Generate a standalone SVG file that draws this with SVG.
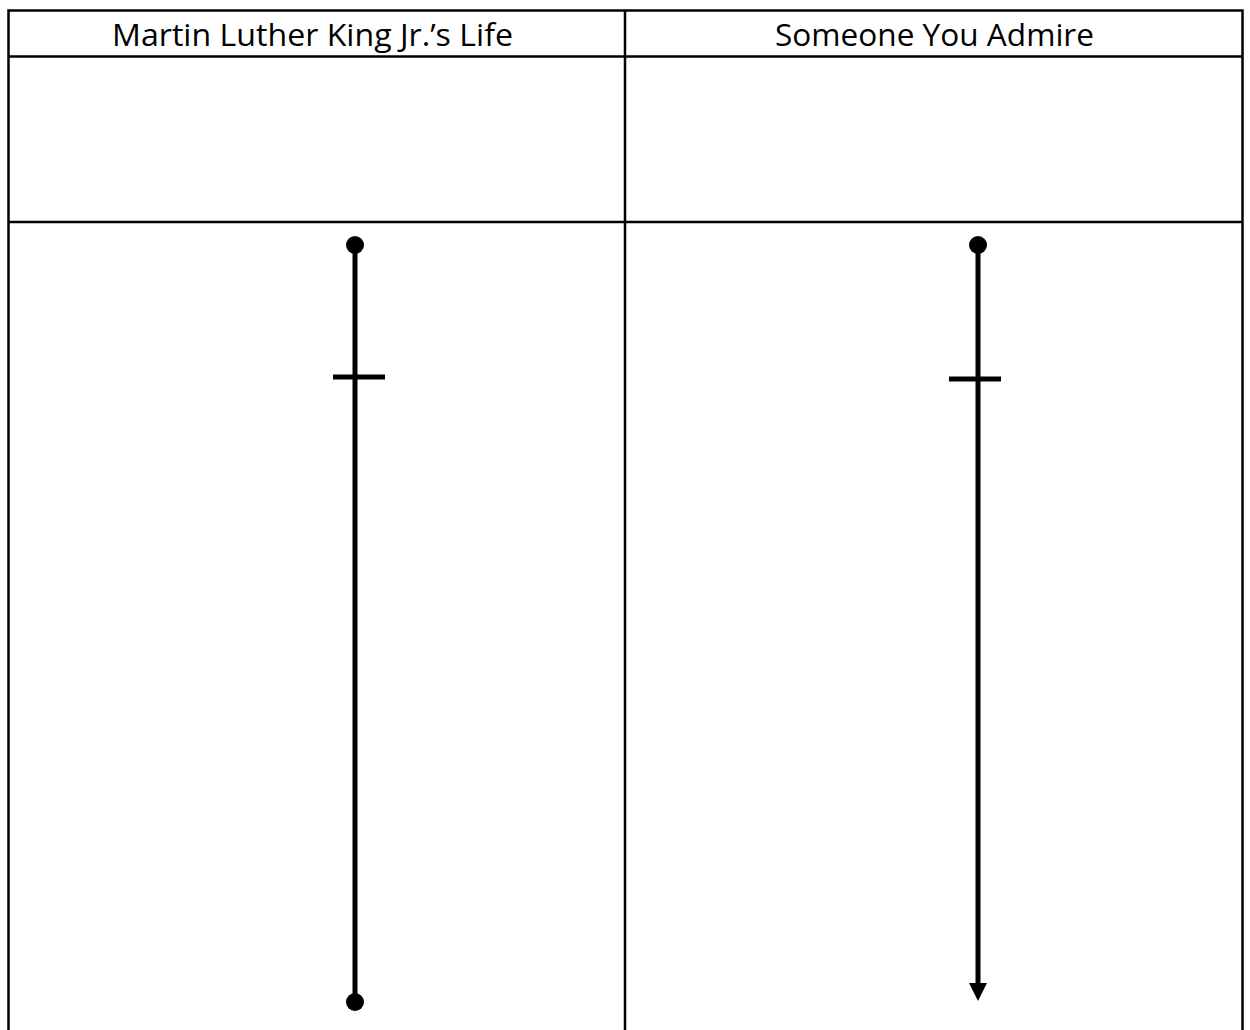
<svg xmlns="http://www.w3.org/2000/svg" width="1250" height="1030" viewBox="0 0 1250 1030">
<style>
.grid{stroke:#000;stroke-width:2.5;fill:none}
.hdr{font-family:"Open Sans","Liberation Sans",sans-serif;font-size:31px;fill:#000;text-anchor:middle}
.tl{stroke:#000;stroke-width:5;fill:none}
.dot{fill:#000}
</style>
<rect x="0" y="0" width="1250" height="1030" fill="#fff"/>
<g id="table">
<path class="grid" d="M8.5,1030 V10.5 H1242.5 V1030 M8.5,56.5 H1242.5 M8.5,222 H1242.5 M625,10.5 V1030"/>
</g>
<g id="header-left"><text class="hdr" x="312.5" y="46" textLength="401" lengthAdjust="spacingAndGlyphs">Martin Luther King Jr.’s Life</text></g>
<g id="header-right"><text class="hdr" x="934.5" y="46" textLength="319" lengthAdjust="spacingAndGlyphs">Someone You Admire</text></g>
<g id="connectors">
<g id="timeline-left">
<line class="tl" x1="355" y1="245" x2="355" y2="1002"/>
<line class="tl" x1="333" y1="377" x2="385" y2="377"/>
<circle class="dot" cx="355" cy="245" r="9"/>
<circle class="dot" cx="355" cy="1002" r="9"/>
</g>
<g id="timeline-right">
<line class="tl" x1="978" y1="245" x2="978" y2="984"/>
<polygon points="969,983 987,983 978,1001" fill="#000"/>
<line class="tl" x1="949" y1="379" x2="1001" y2="379"/>
<circle class="dot" cx="978" cy="245" r="9"/>
</g>
</g>
</svg>
